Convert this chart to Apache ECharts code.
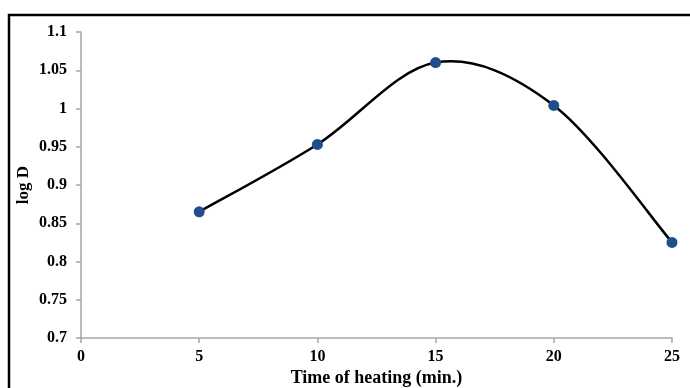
<!DOCTYPE html>
<html><head><meta charset="utf-8">
<script src="https://cdn.jsdelivr.net/npm/echarts@6/dist/echarts.min.js"></script>
<style>html,body{margin:0;padding:0;background:#fff}#c{width:690px;height:388px}</style>
</head><body><div id="c"></div>
<script>
const xValues = [5, 10, 15, 20, 25];
const logD = [0.865, 0.953, 1.060, 1.004, 0.825];
const xAxisTitle = 'Time of heating (min.)';
const yAxisTitle = 'log D';

const points = xValues.map((x, i) => [x, logD[i]]);
const chart = echarts.init(document.getElementById('c'));
const font = {fontFamily: '"Liberation Serif", "Times New Roman", serif', fontWeight: 'bold', fontSize: 16, color: '#000'};

// Smoothed curve (Catmull-Rom style bezier through the data points, in pixel space via the axes)
function renderCurve(params, api) {
  if (params.dataIndex !== 0) return null;
  const P = points.map(p => api.coord(p));
  const n = P.length;
  const children = [];
  for (let i = 0; i < n - 1; i++) {
    const p0 = P[Math.max(i - 1, 0)], p1 = P[i], p2 = P[i + 1], p3 = P[Math.min(i + 2, n - 1)];
    const t = 1 / 6;
    children.push({
      type: 'bezierCurve',
      shape: {
        x1: p1[0], y1: p1[1], x2: p2[0], y2: p2[1],
        cpx1: p1[0] + (p2[0] - p0[0]) * t, cpy1: p1[1] + (p2[1] - p0[1]) * t,
        cpx2: p2[0] - (p3[0] - p1[0]) * t, cpy2: p2[1] - (p3[1] - p1[1]) * t
      },
      style: {stroke: '#000', lineWidth: 2.5, fill: null}
    });
  }
  return {type: 'group', children: children};
}

chart.setOption({
  animation: false,
  graphic: [{type: 'rect', shape: {x: 9, y: 15, width: 720, height: 420}, style: {fill: 'none', stroke: '#000', lineWidth: 2.5}, silent: true}],
  grid: {left: 81, right: 18, top: 32, bottom: 50, containLabel: false, outerBoundsMode: 'none'},
  xAxis: {
    type: 'value', min: 0, max: 25, interval: 5,
    name: xAxisTitle, nameLocation: 'middle', nameGap: 31, nameMoveOverlap: false,
    nameTextStyle: Object.assign({}, font, {fontSize: 18}),
    axisLine: {lineStyle: {color: '#a6a6a6', width: 1.5}},
    axisTick: {show: true, length: 5, lineStyle: {color: '#a6a6a6', width: 1.5}},
    axisLabel: Object.assign({}, font, {margin: 11}),
    splitLine: {show: false}
  },
  yAxis: {
    type: 'value', min: 0.7, max: 1.1, interval: 0.05,
    name: yAxisTitle, nameLocation: 'middle', nameGap: 49, nameMoveOverlap: false,
    nameTextStyle: Object.assign({}, font, {fontSize: 17}),
    axisLine: {show: true, lineStyle: {color: '#a6a6a6', width: 1.5}},
    axisTick: {show: true, length: 5, lineStyle: {color: '#a6a6a6', width: 1.5}},
    axisLabel: Object.assign({}, font, {margin: 14, formatter: v => String(parseFloat(v.toFixed(2)))}),
    splitLine: {show: false}
  },
  series: [{
    type: 'custom', data: points, renderItem: renderCurve, z: 2, silent: true
  }, {
    type: 'scatter', data: points, symbol: 'circle', symbolSize: 11, z: 3,
    itemStyle: {color: '#1f4e8a', opacity: 1}
  }]
});
</script></body></html>
